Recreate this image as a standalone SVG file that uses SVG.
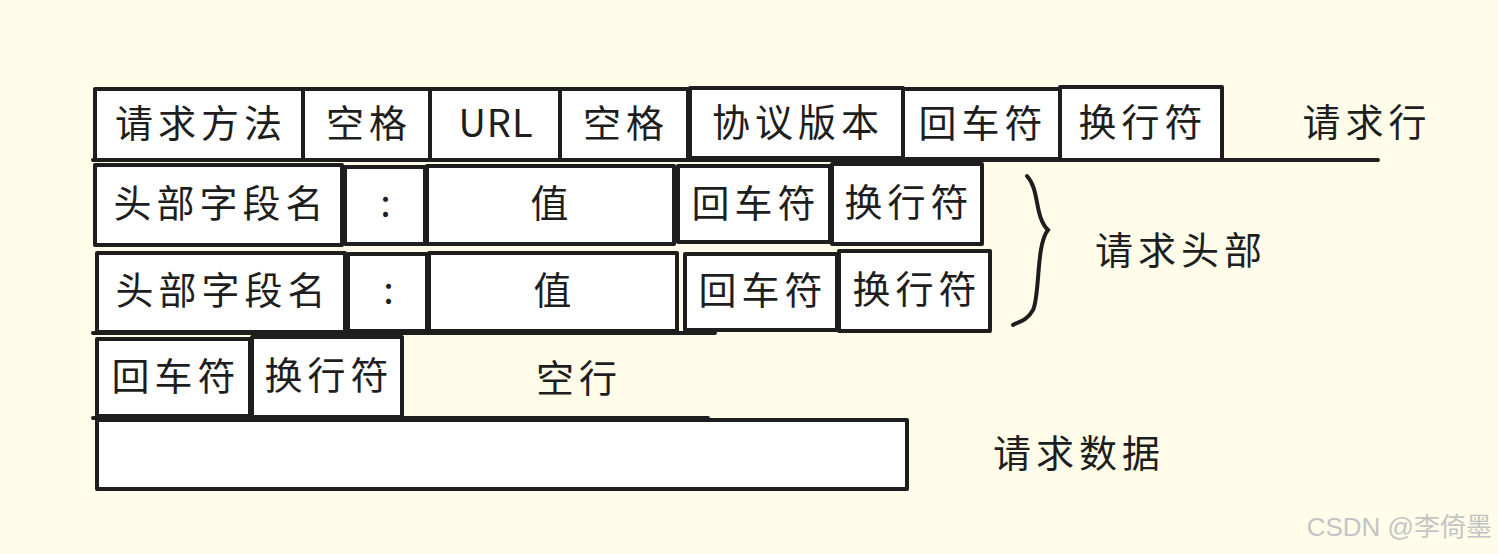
<svg xmlns="http://www.w3.org/2000/svg" width="1498" height="554" viewBox="0 0 1498 554">
<style>
.b{fill:#ffffff;stroke:#1e1e1e;stroke-width:4;stroke-linejoin:round}
.l{fill:none;stroke:#1e1e1e;stroke-width:4;stroke-linecap:round}
.t{font-family:"Noto Sans CJK SC","Noto Sans",sans-serif;font-size:38px;fill:#1e1e1e;text-anchor:middle;dominant-baseline:central;letter-spacing:5px}
.w{font-family:"Liberation Sans","Noto Sans CJK SC",sans-serif;font-size:26px;fill:#c4c4c4;text-anchor:end}
</style>
<rect width="1498" height="554" fill="#fffde9"/>
<g id="connectors">
<line class="l" x1="93" y1="160" x2="1378" y2="160"/>
<line class="l" x1="93" y1="333" x2="715" y2="333"/>
<line class="l" x1="93" y1="418" x2="708" y2="418"/>
<path class="l" d="M1027,176 C1040,190 1034,216 1048,230 C1036,244 1040,296 1033,310 C1026,322 1019,321 1013,325" stroke-width="6.5"/>
</g>
<g id="row1">
<g id="n-method"><rect class="b" x="95" y="89" width="208" height="71"/><text class="t" x="201" y="120">请求方法</text></g>
<g id="n-sp1"><rect class="b" x="303" y="89" width="127" height="71"/><text class="t" x="369" y="120">空格</text></g>
<g id="n-url"><rect class="b" x="430" y="89" width="130" height="71"/><text class="t" x="496" y="120" style="letter-spacing:1px">URL</text></g>
<g id="n-sp2"><rect class="b" x="560" y="89" width="128" height="71"/><text class="t" x="626" y="120">空格</text></g>
<g id="n-ver"><rect class="b" x="690" y="88" width="213" height="70"/><text class="t" x="798" y="119">协议版本</text></g>
<g id="n-cr1"><rect class="b" x="903" y="89" width="157" height="70"/><text class="t" x="983" y="120">回车符</text></g>
<g id="n-lf1"><rect class="b" x="1060" y="87" width="162" height="73"/><text class="t" x="1143" y="119">换行符</text></g>
<text class="t" x="1367" y="119" id="lbl-line">请求行</text>
</g>
<g id="row2">
<g id="n-h1"><rect class="b" x="95" y="165" width="247" height="80"/><text class="t" x="221" y="200">头部字段名</text></g>
<g id="n-c1"><rect class="b" x="345" y="167" width="80" height="77"/><text class="t" x="388" y="200">:</text></g>
<g id="n-v1"><rect class="b" x="427" y="166" width="247" height="78"/><text class="t" x="552" y="200">值</text></g>
<g id="n-cr2"><rect class="b" x="678" y="166" width="152" height="76"/><text class="t" x="756" y="200">回车符</text></g>
<g id="n-lf2"><rect class="b" x="832" y="164" width="150" height="80"/><text class="t" x="909" y="199">换行符</text></g>
</g>
<g id="row3">
<g id="n-h2"><rect class="b" x="97" y="253" width="248" height="79"/><text class="t" x="223" y="287">头部字段名</text></g>
<g id="n-c2"><rect class="b" x="348" y="254" width="79" height="77"/><text class="t" x="391" y="287">:</text></g>
<g id="n-v2"><rect class="b" x="429" y="253" width="248" height="78"/><text class="t" x="555" y="287">值</text></g>
<g id="n-cr3"><rect class="b" x="685" y="254" width="152" height="76"/><text class="t" x="763" y="287">回车符</text></g>
<g id="n-lf3"><rect class="b" x="839" y="251" width="151" height="80"/><text class="t" x="917" y="286">换行符</text></g>
<text class="t" x="1181" y="247" id="lbl-header">请求头部</text>
</g>
<g id="row4">
<g id="n-cr4"><rect class="b" x="97" y="339" width="153" height="77"/><text class="t" x="176" y="373">回车符</text></g>
<g id="n-lf4"><rect class="b" x="252" y="337" width="150" height="80"/><text class="t" x="329" y="372">换行符</text></g>
<text class="t" x="579" y="375" id="lbl-empty">空行</text>
</g>
<g id="row5">
<g id="n-body"><rect class="b" x="97" y="420" width="810" height="69"/></g>
<text class="t" x="1079" y="450" id="lbl-body">请求数据</text>
</g>
<text class="w" x="1492" y="536">CSDN @李倚墨</text>
</svg>
